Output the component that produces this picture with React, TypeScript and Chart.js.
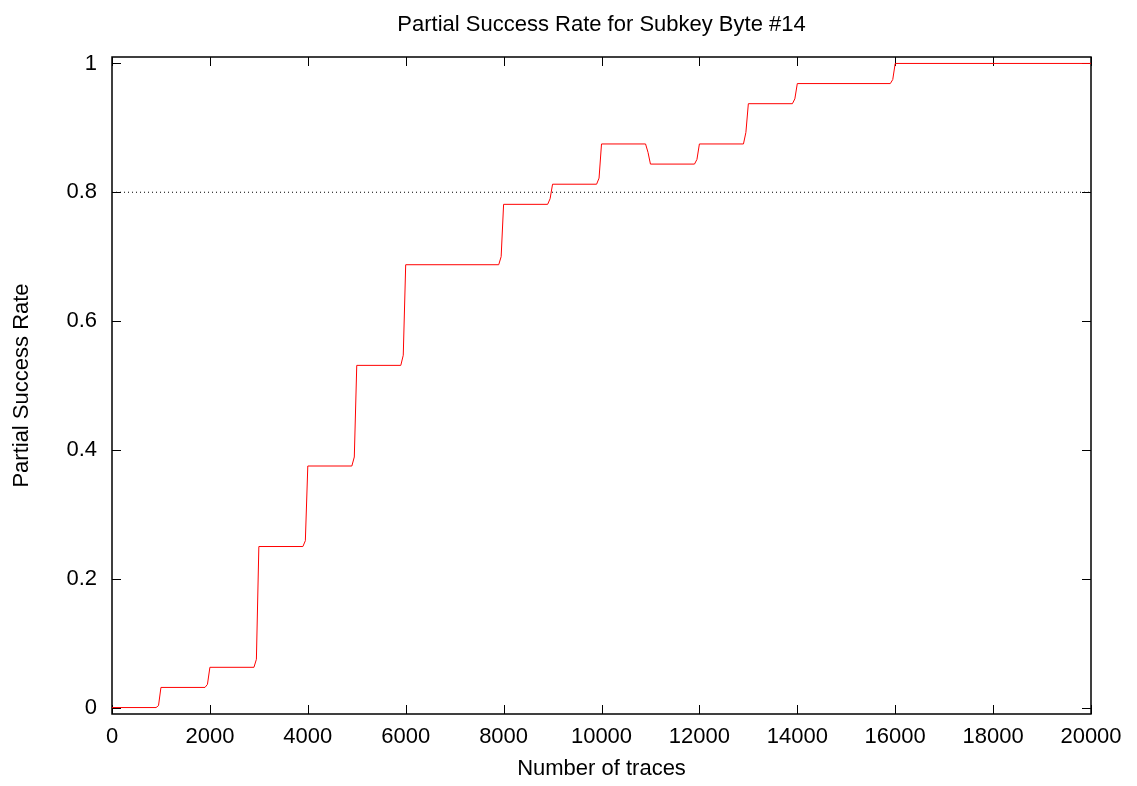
import { useEffect, useRef } from "react";
import { Chart, registerables } from "chart.js";

Chart.register(...registerables);

// Number of traces at which the success rate was evaluated
const traces = [
  0, 900, 950, 1000,
  1900, 1950, 2000,
  2900, 2950, 3000,
  3900, 3950, 4000,
  4900, 4950, 5000,
  5900, 5950, 6000,
  7900, 7950, 8000,
  8900, 8950, 9000,
  9900, 9950, 10000,
  10900, 10950, 11000,
  11900, 11950, 12000,
  12900, 12950, 13000,
  13900, 13950, 14000,
  15900, 15950, 16000,
  20000,
];

// Partial success rate for subkey byte #14
const successRate = [
  0, 0, 0.003, 0.03125,
  0.03125, 0.036, 0.0625,
  0.0625, 0.075, 0.25,
  0.25, 0.259, 0.375,
  0.375, 0.389, 0.53125,
  0.53125, 0.547, 0.6875,
  0.6875, 0.7, 0.78125,
  0.78125, 0.79, 0.8125,
  0.8125, 0.822, 0.875,
  0.875, 0.862, 0.84375,
  0.84375, 0.851, 0.875,
  0.875, 0.893, 0.9375,
  0.9375, 0.945, 0.96875,
  0.96875, 0.975, 1,
  1,
];

// Reference level
const thresholdTraces = [0, 20000];
const thresholdRate = [0.8, 0.8];

const xTicks = [0, 2000, 4000, 6000, 8000, 10000, 12000, 14000, 16000, 18000, 20000];
const xTickLabels = ["0", "2000", "4000", "6000", "8000", "10000", "12000", "14000", "16000", "18000", "20000"];
const yTicks = [0, 0.2, 0.4, 0.6, 0.8, 1];
const yTickLabels = ["0", "0.2", "0.4", "0.6", "0.8", "1"];

const FONT_FAMILY = "'Liberation Sans', Arial, Helvetica, sans-serif";
const FONT_SIZE = 22;
const TICK_LEN = 9;

// Draws the boxed frame with inward tick marks on all four sides
const framePlugin = {
  id: "frameTicks",
  beforeDatasetsDraw(chart: any) {
    const { ctx, chartArea: a, scales } = chart;
    ctx.save();
    ctx.strokeStyle = "#000";
    ctx.lineWidth = 1;
    ctx.beginPath();
    for (const v of xTicks) {
      const px = Math.round(scales.x.getPixelForValue(v)) + 0.5;
      ctx.moveTo(px, a.bottom);
      ctx.lineTo(px, a.bottom - TICK_LEN);
      ctx.moveTo(px, a.top);
      ctx.lineTo(px, a.top + TICK_LEN);
    }
    for (const v of yTicks) {
      const py = Math.round(scales.y.getPixelForValue(v)) + 0.5;
      ctx.moveTo(a.left, py);
      ctx.lineTo(a.left + TICK_LEN, py);
      ctx.moveTo(a.right, py);
      ctx.lineTo(a.right - TICK_LEN, py);
    }
    ctx.stroke();
    ctx.lineWidth = 1.5;
    ctx.strokeRect(a.left, a.top, a.right - a.left, a.bottom - a.top);
    ctx.restore();
  },
};

export default function App() {
  const canvasRef = useRef<HTMLCanvasElement | null>(null);

  useEffect(() => {
    const canvas = canvasRef.current;
    if (!canvas) return;
    const font = { family: FONT_FAMILY, size: FONT_SIZE, weight: "normal" as const };

    const chart = new Chart(canvas, {
      type: "line",
      data: {
        datasets: [
          {
            data: traces.map((t, i) => ({ x: t, y: successRate[i] })),
            borderColor: "#ff0000",
            borderWidth: 1,
            pointRadius: 0,
            tension: 0,
            fill: false,
          },
          {
            data: thresholdTraces.map((t, i) => ({ x: t, y: thresholdRate[i] })),
            borderColor: "#000000",
            borderWidth: 1,
            borderDash: [1, 3],
            pointRadius: 0,
            tension: 0,
            fill: false,
          },
        ],
      },
      options: {
        responsive: false,
        animation: false,
        devicePixelRatio: 1,
        layout: { padding: { left: 0, right: 46, top: 0, bottom: 0 } },
        plugins: {
          legend: { display: false },
          tooltip: { enabled: false },
          title: {
            display: true,
            fullSize: false,
            text: "Partial Success Rate for Subkey Byte #14",
            color: "#000",
            font,
            padding: { top: 12, bottom: 18.6 },
          },
        },
        scales: {
          x: {
            type: "linear",
            min: 0,
            max: 20000,
            afterBuildTicks: (s: any) => {
              s.ticks = xTicks.map((v) => ({ value: v }));
            },
            afterFit: (s: any) => {
              s.height = 72;
            },
            grid: { display: false, drawTicks: false },
            border: { display: false },
            ticks: {
              autoSkip: false,
              maxRotation: 0,
              color: "#000",
              font,
              padding: 10,
              callback: (_v: any, i: number) => xTickLabels[i],
            },
            title: {
              display: true,
              text: "Number of traces",
              color: "#000",
              font,
              padding: { top: 4, bottom: 4 },
            },
          },
          y: {
            type: "linear",
            min: -0.01,
            max: 1.01,
            afterBuildTicks: (s: any) => {
              s.ticks = yTicks.map((v) => ({ value: v }));
            },
            afterFit: (s: any) => {
              s.width = 112;
            },
            grid: { display: false, drawTicks: false },
            border: { display: false },
            ticks: {
              autoSkip: false,
              color: "#000",
              font,
              padding: 15,
              callback: (_v: any, i: number) => yTickLabels[i],
            },
            title: {
              display: true,
              text: "Partial Success Rate",
              color: "#000",
              font,
              padding: { top: 9, bottom: 9 },
            },
          },
        },
      },
      plugins: [framePlugin],
    });

    return () => chart.destroy();
  }, []);

  return (
    <div style={{ position: "fixed", left: 0, top: 0, width: 1137, height: 786, background: "#fff" }}>
      <canvas ref={canvasRef} width={1137} height={786} style={{ display: "block" }} />
    </div>
  );
}
